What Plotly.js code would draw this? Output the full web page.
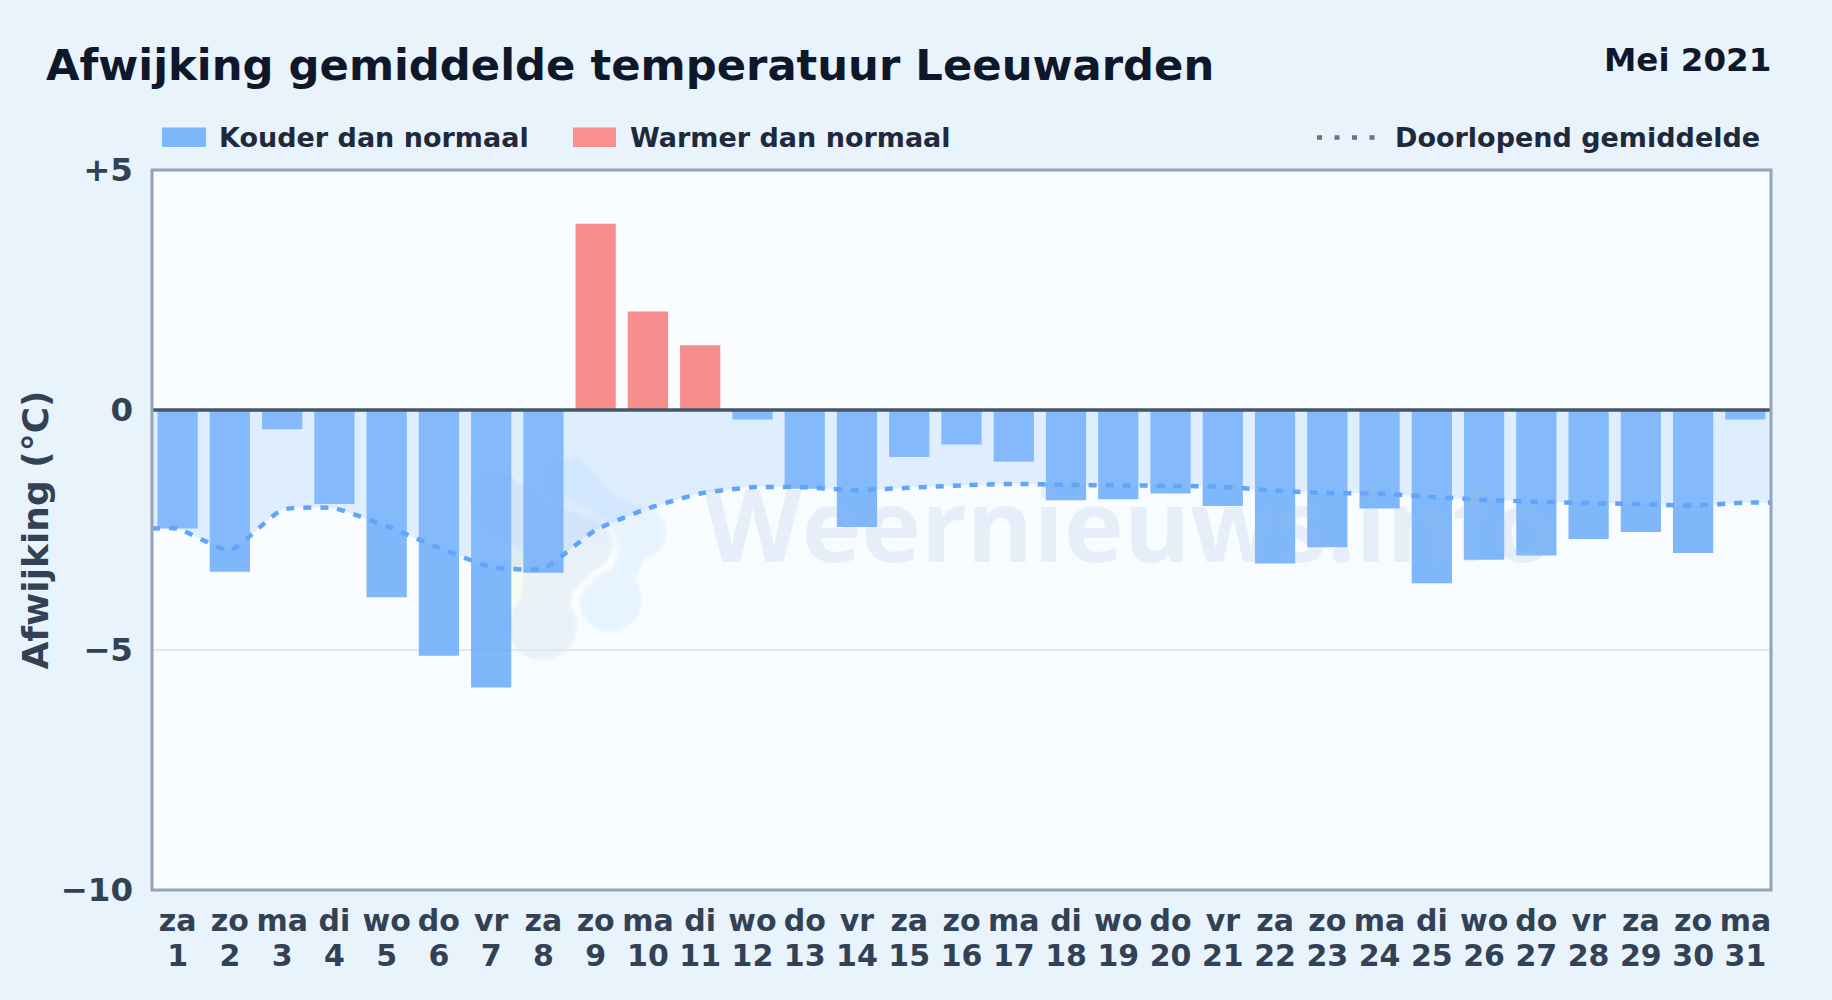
<!DOCTYPE html>
<html><head><meta charset="utf-8">
<script src="https://cdn.plot.ly/plotly-3.0.1.min.js"></script>
<style>html,body{margin:0;padding:0;width:1832px;height:1000px;background:#e8f3fc;overflow:hidden}</style>
</head><body><div id="chart" style="width:1832px;height:1000px"></div>
<script>
const weekdays = ["za","zo","ma","di","wo","do","vr","za","zo","ma","di","wo","do","vr","za","zo","ma","di","wo","do","vr","za","zo","ma","di","wo","do","vr","za","zo","ma"];
const days = [1,2,3,4,5,6,7,8,9,10,11,12,13,14,15,16,17,18,19,20,21,22,23,24,25,26,27,28,29,30,31];
const deviation = [-2.47,-3.37,-0.40,-1.96,-3.90,-5.12,-5.78,-3.39,3.88,2.05,1.35,-0.20,-1.64,-2.44,-0.98,-0.72,-1.08,-1.88,-1.86,-1.74,-2.00,-3.20,-2.86,-2.05,-3.61,-3.12,-3.03,-2.69,-2.54,-2.98,-0.20];
const runningX = [0.51,1,2,3,4,5,6,7,8,9,10,11,12,13,14,15,16,17,18,19,20,21,22,23,24,25,26,27,28,29,30,31,31.49];
const runningMean = [-2.47,-2.47,-2.92,-2.08,-2.05,-2.42,-2.87,-3.27,-3.30,-2.50,-2.05,-1.74,-1.61,-1.61,-1.67,-1.62,-1.57,-1.54,-1.56,-1.57,-1.58,-1.60,-1.68,-1.73,-1.74,-1.81,-1.87,-1.91,-1.94,-1.96,-1.99,-1.93,-1.93];
const yTickVals = [5,0,-5,-10];
const yTickText = ["+5","0","−5","−10"];
const BLUE="#60a5fa", RED="#f87171";
const FONT='"DejaVu Sans", sans-serif';
const barColors = deviation.map(v=>v<0?BLUE:RED);
const traces=[
 {type:"bar",x:days,y:deviation,width:0.77,marker:{color:barColors,opacity:0.8,line:{width:0}},showlegend:false},
 {type:"scatter",mode:"lines",xaxis:"x2",x:runningX,y:runningMean,fill:"tozeroy",fillcolor:"rgba(147,197,253,0.25)",
  line:{color:BLUE,width:4.5,dash:"8px,9px",shape:"spline",smoothing:0.5},hoverinfo:"skip",showlegend:false}
];
const L=152,R=1771,T=169.5,B=890,W=1832,H=1000;
const px=x=>(x-L)/(R-L), py=y=>(B-y)/(B-T);
const logoSvg='<svg xmlns="http://www.w3.org/2000/svg" width="340" height="260" viewBox="0 0 340 260">'
 +'<defs><filter id="b" filterUnits="userSpaceOnUse" x="0" y="0" width="340" height="260"><feGaussianBlur stdDeviation="1.5"/></filter></defs><g filter="url(#b)">'
 +'<g opacity="0.42" fill="none" stroke="#cfe8ff" stroke-linecap="round" stroke-linejoin="round">'
 +'<path d="M190 62 L222 100 L262 112" stroke-width="50"/><path d="M262 112 L232 180" stroke-width="26"/><path d="M232 180 L230 182" stroke-width="60"/></g>'
 +'<circle cx="147" cy="158" r="30" fill="#f3f8dc" opacity="0.6"/>'
 +'<g fill="none" stroke="#ffffff" stroke-opacity="0.45" stroke-linecap="round" stroke-linejoin="round">'
 +'<path d="M118 80 L205 125 L165 165 L163 205" stroke-width="66"/></g>'
 +'<g opacity="0.55" fill="none" stroke="#dce8f3" stroke-linecap="round" stroke-linejoin="round">'
 +'<path d="M118 80 L150 105 L205 125" stroke-width="54"/><path d="M205 125 L168 160 L163 205" stroke-width="50"/><path d="M163 205 L162 206" stroke-width="68"/></g>'
 +'</g></svg>';
function legendText(t,x,anchor){return {text:t,xref:"paper",yref:"paper",x:px(x),y:py(137),xanchor:anchor,yanchor:"middle",showarrow:false,font:{family:FONT,size:27,weight:700,color:"#1e293b"}}}
const xBase={type:"linear",range:[0.51,31.49],tickmode:"array",tickvals:days,ticks:"",showgrid:false,zeroline:false,showline:false,tickangle:0,automargin:false,
  tickfont:{family:FONT,size:30,weight:700,color:"#334155"}};
const layout={
 width:W,height:H,paper_bgcolor:"rgba(0,0,0,0)",plot_bgcolor:"#f8fcff",showlegend:false,
 font:{family:FONT},
 margin:{l:L,r:W-R,t:T,b:H-B,pad:0},
 xaxis:Object.assign({},xBase,{ticktext:weekdays,ticklabelstandoff:10}),
 xaxis2:Object.assign({},xBase,{ticktext:days.map(String),overlaying:"x",side:"bottom",anchor:"y",ticklabelstandoff:45}),
 yaxis:{range:[-10,5],tickmode:"array",tickvals:yTickVals,ticktext:yTickText,ticklabelstandoff:18,
  tickfont:{family:FONT,size:32.5,weight:700,color:"#334155"},ticks:"",showgrid:true,gridcolor:"#e2e8f0",gridwidth:1.5,zeroline:false,showline:false,automargin:false,
  title:{text:"Afwijking (°C)",standoff:0,font:{family:FONT,size:36,weight:700,color:"#334155"}}},
 title:{text:"Afwijking gemiddelde temperatuur Leeuwarden",x:46/W,xanchor:"left",xref:"container",yref:"container",y:1-65/H,yanchor:"middle",font:{family:FONT,size:43.3,weight:700,color:"#0f172a"}},
 images:[{source:"data:image/svg+xml,"+encodeURIComponent(logoSvg),xref:"paper",yref:"paper",x:px(380),y:py(420),sizex:340/(R-L),sizey:260/(B-T),xanchor:"left",yanchor:"top",sizing:"stretch",layer:"below"}],
 annotations:[
  {text:"Mei 2021",xref:"paper",yref:"paper",x:px(1773),y:py(59),xanchor:"right",yanchor:"middle",showarrow:false,font:{family:FONT,size:32.5,weight:700,color:"#0f172a"}},
  legendText("Kouder dan normaal",217,"left"),
  legendText("Warmer dan normaal",628,"left"),
  legendText("Doorlopend gemiddelde",1762,"right"),
  {text:"Weernieuws.info",xref:"paper",yref:"paper",x:px(702),y:py(523),xanchor:"left",yanchor:"middle",showarrow:false,font:{family:'"Open Sans"',size:101,weight:700,color:"rgba(148,184,220,0.18)"}}
 ],
 shapes:[
  {type:"rect",xref:"paper",yref:"paper",x0:px(162),x1:px(206),y0:py(127),y1:py(146.5),fillcolor:"#7eb6fa",line:{width:0}},
  {type:"rect",xref:"paper",yref:"paper",x0:px(573),x1:px(616),y0:py(127),y1:py(146.5),fillcolor:"#f98f8f",line:{width:0}},
  {type:"line",xref:"paper",yref:"paper",x0:px(1317),x1:px(1375),y0:py(137),y1:py(137),line:{color:"#64748b",width:4.5,dash:"5px,12.5px"}},
  {type:"line",xref:"paper",yref:"y",x0:0,x1:1,y0:0,y1:0,layer:"above",line:{color:"#475569",width:3.5}},
  {type:"rect",xref:"paper",yref:"paper",x0:0,x1:1,y0:0,y1:1,layer:"above",line:{color:"#94a3b8",width:3},fillcolor:"rgba(0,0,0,0)"}
 ]
};
Plotly.newPlot("chart",traces,layout,{displayModeBar:false,responsive:false});
</script></body></html>
